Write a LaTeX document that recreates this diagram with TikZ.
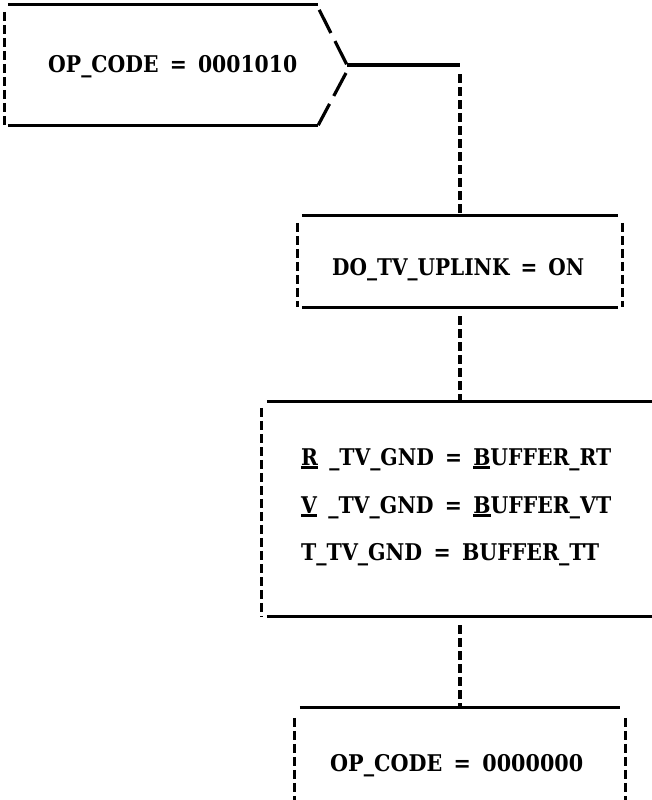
\documentclass[tikz,border=0pt]{standalone}
\usepackage{fontspec}
\usepackage{graphicx}
\newfontfamily\heavy{DejaVu Serif}
\newcommand\ulc[1]{\setbox0\hbox{#1}\rlap{\raisebox{-3.5pt}{\rule{\wd0}{2.6pt}}}#1}
\newcommand\fitw[2]{\resizebox{#1}{\height}{\spaceskip=0.55em\relax #2}}
\begin{document}
\begin{tikzpicture}[x=1pt,y=-1pt,
  solidline/.style={line width=3.2pt},
  dashline/.style={line width=3.2pt, dash pattern=on 9pt off 4pt},
  diagline/.style={line width=3.2pt, dash pattern=on 26pt off 9pt},
  frame/.style={draw=none, rectangle, inner sep=0pt},
  lbl/.style={inner sep=0pt, anchor=base west, font=\heavy\bfseries\fontsize{23}{28}\selectfont}]
\useasboundingbox (0,0) rectangle (651,800);
% box 1 (chevron)
\node[frame, minimum width=313pt, minimum height=120pt] (b1) at (161.5,65) {};
\coordinate (tip) at (347,65);
\coordinate (corner) at (460,65);
\draw[solidline] (b1.north west) ++(3,0) -- (b1.north east);
\draw[solidline] (b1.south west) ++(3,0) -- (b1.south east);
\draw[dashline] (b1.north west) ++(0,7) -- (b1.south west);
\draw[diagline] (b1.north east) ++(1,5) -- (tip);
\draw[diagline] (tip) ++(-1,8) -- (b1.south east);
\draw[solidline] (tip) -- (corner);
\node[lbl] (t1) at (48,72) {\fitw{249pt}{OP\_CODE = 0001010}};
% box 2
\node[frame, minimum width=324pt, minimum height=91pt] (b2) at (460,261.5) {};
\draw[solidline] (b2.north west) ++(4,0) -- ([xshift=-4pt]b2.north east);
\draw[solidline] (b2.south west) ++(4,0) -- ([xshift=-4pt]b2.south east);
\draw[dashline] (b2.north west) ++(0,7) -- (b2.south west);
\draw[dashline] (b2.north east) ++(0,7) -- (b2.south east);
\node[lbl] (t2) at (332,275) {\fitw{252pt}{DO\_TV\_UPLINK = ON}};
% box 3
\node[frame, minimum width=396pt, minimum height=214pt] (b3) at (460,509) {};
\draw[solidline] (b3.north west) ++(5,0) -- (b3.north east);
\draw[solidline] (b3.south west) ++(5,0) -- (b3.south east);
\draw[dashline] (b3.north west) ++(0,6) -- (b3.south west);
\node[lbl] (t3a) at (301,465) {\fitw{310pt}{\ulc{R} \_TV\_GND = \ulc{B}UFFER\_RT}};
\node[lbl] (t3b) at (301,513) {\fitw{310pt}{\ulc{V} \_TV\_GND = \ulc{B}UFFER\_VT}};
\node[lbl] (t3c) at (301,560) {\fitw{298pt}{T\_TV\_GND = BUFFER\_TT}};
% box 4
\node[frame, minimum width=330pt, minimum height=130pt] (b4) at (460,773) {};
\draw[solidline] (b4.north west) ++(5,0) -- ([xshift=-5pt]b4.north east);
\draw[dashline] (b4.north west) ++(0,10) -- (b4.south west);
\draw[dashline] (b4.north east) ++(0,10) -- (b4.south east);
\node[lbl] (t4) at (330,771) {\fitw{253pt}{OP\_CODE = 0000000}};
% connectors
\draw[dashline] (corner) ++(0,9) -- (b2.north);
\draw[dashline] (b2.south) ++(0,9) -- (b3.north);
\draw[dashline] (b3.south) ++(0,9) -- (b4.north);
\end{tikzpicture}
\end{document}
